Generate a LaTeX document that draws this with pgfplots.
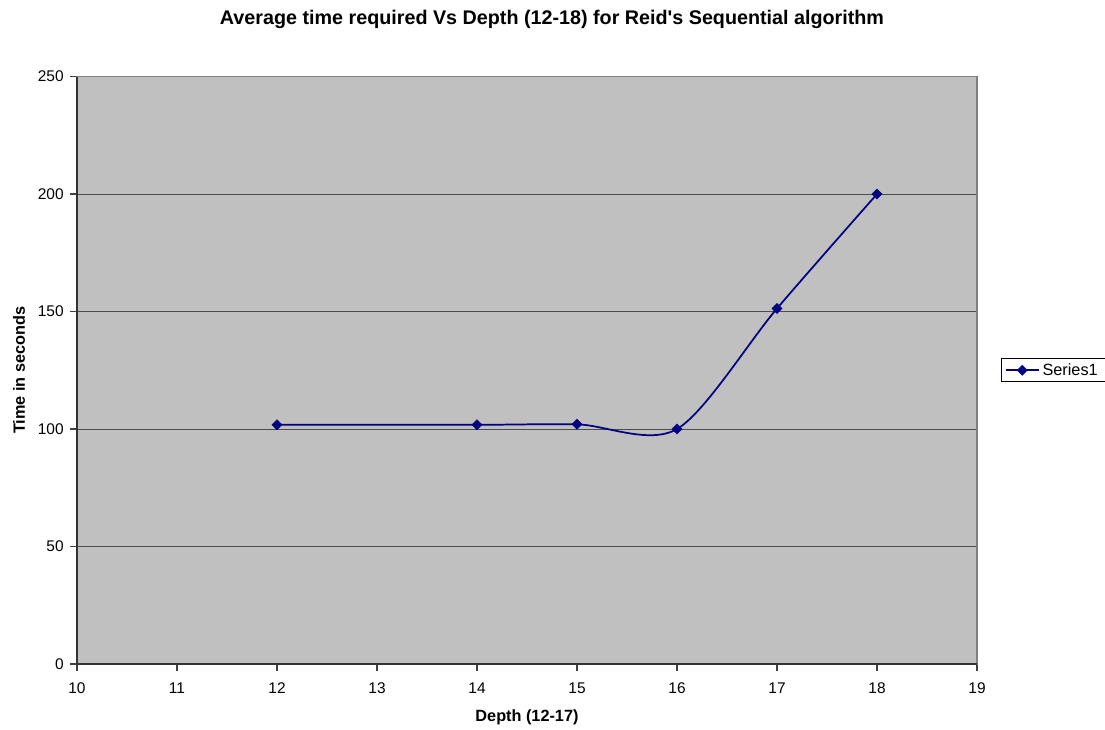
\documentclass[border=0pt]{standalone}
\usepackage{fontspec}
\setmainfont{Liberation Sans}
\usepackage{pgfplots}
\pgfplotsset{compat=1.18}
\definecolor{plotbg}{RGB}{192,192,192}
\definecolor{navyline}{RGB}{0,0,128}
\newcommand{\tfont}{\fontsize{11.6}{13}\selectfont}
\newcommand{\lfont}{\fontsize{12.2}{14}\selectfont}
\begin{document}
\begin{tikzpicture}
\begin{axis}[name=ax, scale only axis, width=675pt, height=440.6pt,
  xmin=10, xmax=19, ymin=0, ymax=250,
  xtick={10,...,19}, ytick={0,50,...,250},
  xtick pos=bottom, ytick pos=left,
  tick align=outside, major tick length=5pt,
  tick style={black!75, line width=0.8pt},
  axis background/.style={fill=plotbg},
  axis line style={black!50, line width=0.8pt},
  ymajorgrids, grid style={black!70, line width=0.7pt},
  tick label style={font=\tfont},
  /pgf/number format/assume math mode=true,
  xticklabel style={yshift=-5.5pt},
  yticklabel style={xshift=-1.5pt},
  xlabel={\bfseries Depth (12-17)},
  ylabel={\bfseries Time in seconds},
  label style={font=\lfont},
  xlabel style={at={(axis description cs:0.5,-0.0905)}, anchor=center},
  ylabel style={at={(axis description cs:-0.0645,0.5)}, anchor=center, rotate=0},
  legend style={at={(axis description cs:1.0267,0.5)}, anchor=west, font=\lfont,
    draw=black, fill=white, line width=0.6pt, inner xsep=2.5pt, inner ysep=1.5pt},
  legend cell align=left,
  legend image code/.code={\draw[mark repeat=2, mark phase=2] plot coordinates {(0cm,0cm) (0.44cm,0cm) (0.88cm,0cm)};},
  clip=false,
]
\addplot[navyline, line width=1.3pt, smooth, tension=0.5,
  mark=square*, mark size=2.7pt, mark options={fill=navyline, line width=0.3pt, rotate=45}]
  coordinates {(12,101.8) (14,101.8) (15,102) (16,100) (17,151.3) (18,200)};
\addlegendentry{\makebox[62pt][l]{Series1}}
\draw[black!80, line width=0.9pt] (rel axis cs:0,1) -- (rel axis cs:0,0) -- (rel axis cs:1,0);
\end{axis}
\node[font=\fontsize{14.8}{17}\selectfont\bfseries, anchor=base] at ([xshift=356.25pt, yshift=479.25pt]ax.south west) {Average time required Vs Depth (12-18) for Reid\textquotesingle s Sequential algorithm};
\pgfresetboundingbox
\path[use as bounding box] ([xshift=-57.75pt, yshift=-48.75pt]ax.south west) rectangle ++(828.75pt,546.75pt);
\end{tikzpicture}
\end{document}
